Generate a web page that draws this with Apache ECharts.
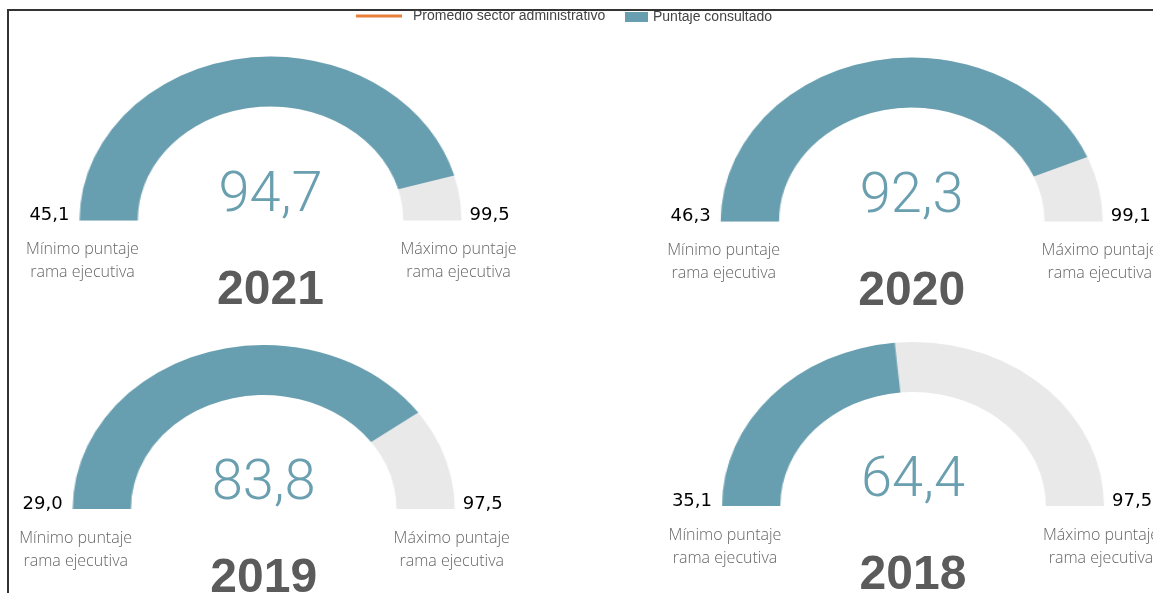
<!DOCTYPE html>
<html>
<head>
<meta charset="utf-8">
<script src="https://cdn.jsdelivr.net/npm/echarts@6/dist/echarts.min.js"></script>
<style>
  html, body { margin: 0; padding: 0; background: #fff; }
  #wrap { position: relative; width: 1153px; height: 593px; overflow: hidden; }
  #frame { position: absolute; left: 7px; top: 9px; width: 1160px; height: 600px;
           border-top: 2px solid #333; border-left: 2px solid #333; }
  #gauges { position: absolute; left: 0; top: 0; height: 593px; transform-origin: 0 0; }
  #texts { position: absolute; left: 0; top: 0; width: 1153px; height: 593px; }
</style>
</head>
<body>
<div id="wrap">
  <div id="frame"></div>
  <div id="gauges"></div>
  <div id="texts"></div>
</div>
<script>
  // datos por año
  const years = ['2021', '2020', '2019', '2018'];
  const minScores = [45.1, 46.3, 29.0, 35.1];
  const maxScores = [99.5, 99.1, 97.5, 97.5];
  const scores = [94.7, 92.3, 83.8, 64.4];
  const legendNames = ['Promedio sector administrativo', 'Puntaje consultado'];
  const captionMin = ['Mínimo puntaje', 'rama ejecutiva'];
  const captionMax = ['Máximo puntaje', 'rama ejecutiva'];

  // posicion de cada medidor (centro de la base, px)
  const cx = [270.5, 911.7, 263.7, 913];
  const cy = [220.5, 221.5, 509, 506];
  const R = 164;          // radio vertical
  const RX = 191;         // radio horizontal (los arcos estan estirados)
  const BAND = 50;
  const SX = RX / R;

  const teal = '#679fb0';
  const fmt = v => v.toFixed(1).replace('.', ',');

  // capa de medidores, estirada en horizontal
  const gDom = document.getElementById('gauges');
  gDom.style.width = (1153 / SX) + 'px';
  gDom.style.transform = 'scaleX(' + SX + ')';
  let gauges = echarts.init(gDom);
  gauges.setOption({
    animation: false,
    series: years.map((y, i) => ({
      type: 'gauge',
      center: [cx[i] / SX, cy[i]],
      radius: R,
      startAngle: 180,
      endAngle: 0,
      min: minScores[i],
      max: maxScores[i],
      axisLine: { lineStyle: { width: BAND, color: [[1, '#e9e9e9']] } },
      progress: { show: true, width: BAND, itemStyle: { color: teal } },
      pointer: { show: false },
      anchor: { show: false },
      axisTick: { show: false },
      splitLine: { show: false },
      axisLabel: { show: false },
      title: { show: false },
      detail: { show: false },
      data: [{ value: scores[i], name: y }]
    }))
  });

  // capa de textos
  function txt(x, y, text, font, fill, align) {
    return {
      type: 'text', x: x, y: y, silent: true,
      style: {
        text: text, font: font, fill: fill,
        align: align, textAlign: align,
        verticalAlign: 'middle', textVerticalAlign: 'middle'
      }
    };
  }
  let elements = [];
  years.forEach((y, i) => {
    elements.push(txt(cx[i], cy[i] - 24, fmt(scores[i]), '300 56px Roboto', '#6a9fb0', 'center'));
    elements.push(txt(cx[i] - RX - 10, cy[i] - 5, fmt(minScores[i]), '18px "DejaVu Sans"', '#000', 'right'));
    elements.push(txt(cx[i] + RX + 8, cy[i] - 5, fmt(maxScores[i]), '18px "DejaVu Sans"', '#000', 'left'));
    captionMin.forEach((c, k) => {
      elements.push(txt(cx[i] - 188, cy[i] + 29 + k * 23, c, '300 16px "Open Sans"', '#666', 'center'));
    });
    captionMax.forEach((c, k) => {
      elements.push(txt(cx[i] + 188, cy[i] + 29 + k * 23, c, '300 16px "Open Sans"', '#666', 'center'));
    });
    elements.push(txt(cx[i], cy[i] + 70, y, 'bold 48px "Liberation Sans"', '#5b5b5b', 'center'));
  });

  let texts = echarts.init(document.getElementById('texts'));
  texts.setOption({
    animation: false,
    grid: { show: false },
    xAxis: { type: 'category', show: false },
    yAxis: { type: 'value', show: false },
    legend: [{
      data: [{ name: legendNames[0], icon: 'path://M0,0H46V3H0Z' }],
      left: 356,
      top: 9,
      padding: 0,
      itemWidth: 46,
      itemHeight: 12,
      selectedMode: false,
      textStyle: { fontFamily: 'Liberation Sans', fontSize: 14, color: '#444', padding: [0, 0, 0, 6] }
    }, {
      data: [legendNames[1]],
      left: 625,
      top: 10,
      padding: 0,
      icon: 'rect',
      itemWidth: 23,
      itemHeight: 10,
      selectedMode: false,
      textStyle: { fontFamily: 'Liberation Sans', fontSize: 14, color: '#444' }
    }],
    series: [{
      name: legendNames[0],
      type: 'line',
      symbol: 'none',
      lineStyle: { width: 3, color: '#e8803a' },
      itemStyle: { color: '#e8803a' },
      data: []
    }, {
      name: legendNames[1],
      type: 'bar',
      itemStyle: { color: teal },
      data: []
    }],
    graphic: { elements: elements }
  });
</script>
</body>
</html>
